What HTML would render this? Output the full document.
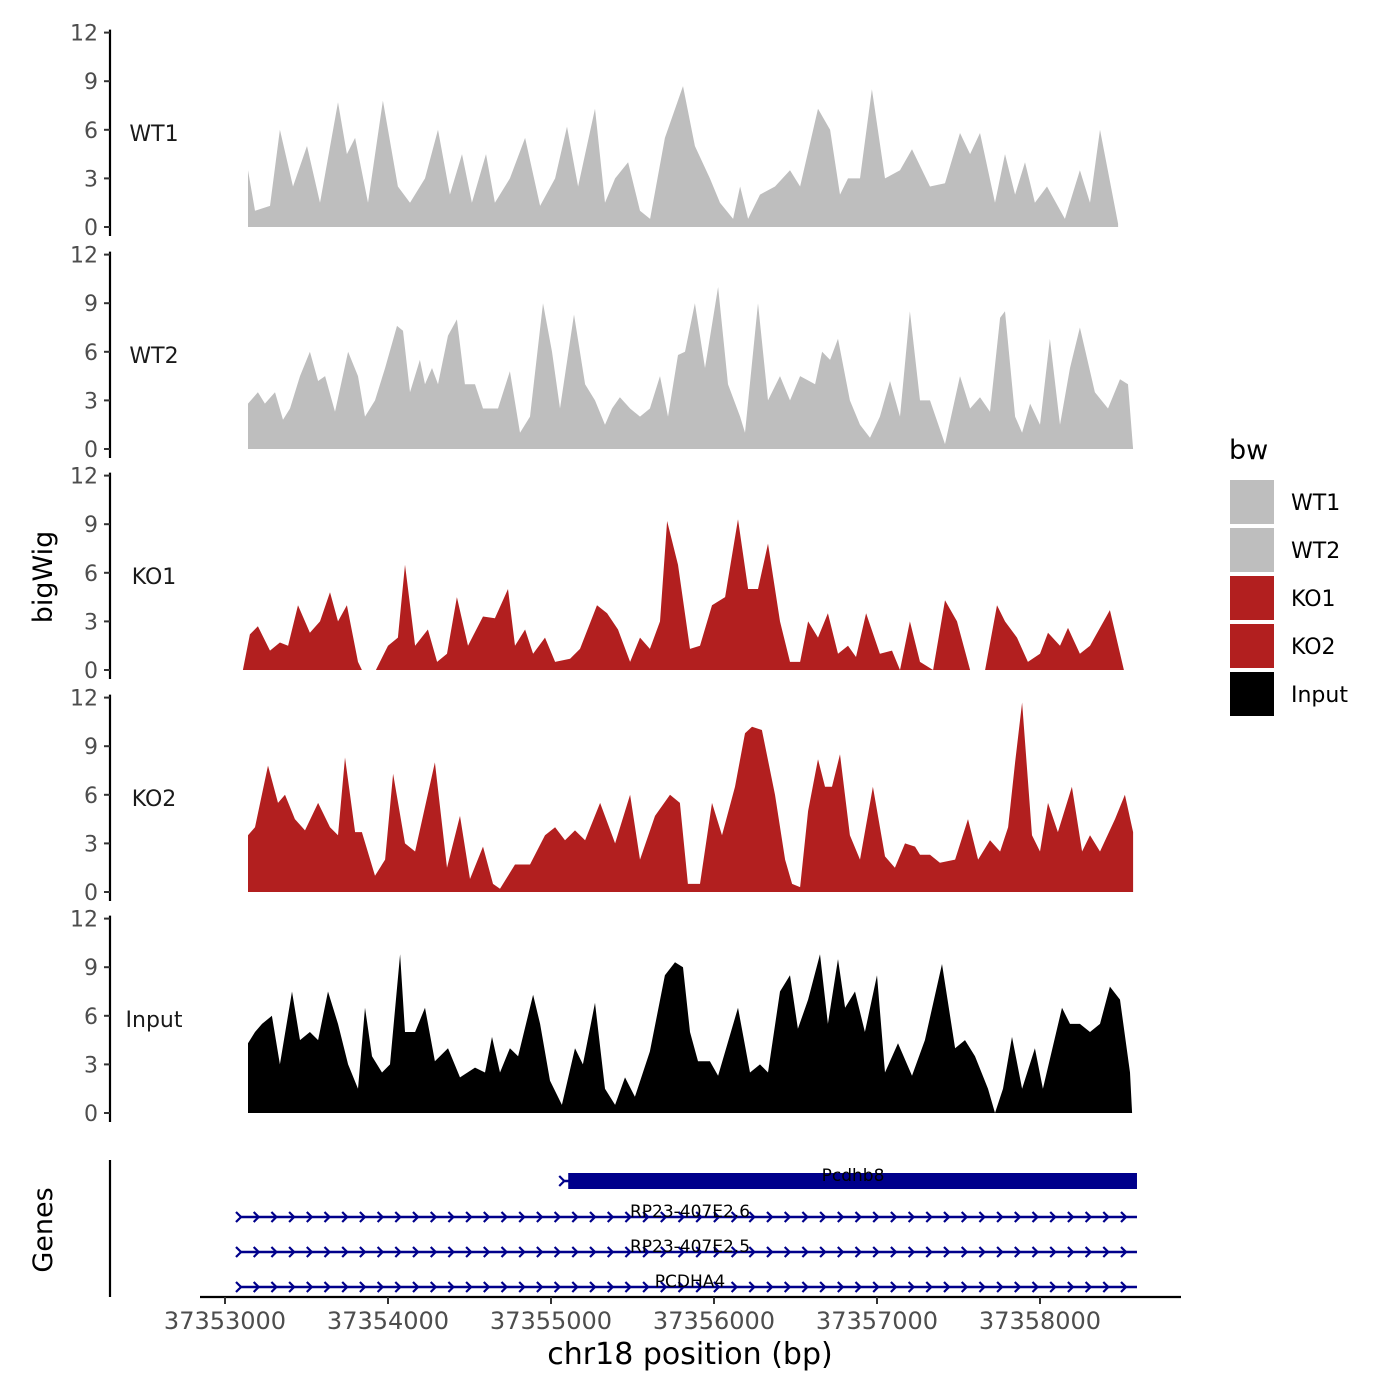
<!DOCTYPE html>
<html><head><meta charset="utf-8">
<style>
html,body{margin:0;padding:0;background:#fff;}
svg{display:block;font-family:"DejaVu Sans","Liberation Sans",sans-serif;}
</style></head>
<body>
<svg id="chart" width="1400" height="1400" viewBox="0 0 1400 1400" xmlns="http://www.w3.org/2000/svg">
<rect width="1400" height="1400" fill="#fff"/>
<g id="tracks"></g>
<g id="genes"></g>
<text x="0" y="0" transform="translate(52,577) rotate(-90)" text-anchor="middle" font-size="27" fill="#000">bigWig</text>
<text x="0" y="0" transform="translate(52,1230) rotate(-90)" text-anchor="middle" font-size="27" fill="#000">Genes</text>
<text x="690" y="1364" text-anchor="middle" font-size="30" fill="#000">chr18 position (bp)</text>
<g>
<text x="1229" y="459" font-size="27" fill="#000">bw</text>
<rect x="1230" y="480" width="44" height="44" fill="#bebebe"/>
<text x="1291" y="510" font-size="22">WT1</text>
<rect x="1230" y="528" width="44" height="44" fill="#bebebe"/>
<text x="1291" y="558" font-size="22">WT2</text>
<rect x="1230" y="576" width="44" height="44" fill="#b21f1f"/>
<text x="1291" y="606" font-size="22">KO1</text>
<rect x="1230" y="624" width="44" height="44" fill="#b21f1f"/>
<text x="1291" y="654" font-size="22">KO2</text>
<rect x="1230" y="672" width="44" height="44" fill="#000"/>
<text x="1291" y="702" font-size="22">Input</text>
</g>
</svg>
<script>
const BASE = 37353000;
const trackNames = ["WT1","WT2","KO1","KO2","Input"];
const trackColors = ["#bebebe","#bebebe","#b21f1f","#b21f1f","#000000"];
const yTicks = [0,3,6,9,12];
const xTicks = [37353000,37354000,37355000,37356000,37357000,37358000];
const xTickLabels = ["37353000","37354000","37355000","37356000","37357000","37358000"];

const posWT1 = [141,184,276,337,417,503,583,693,748,798,877,969,1061,1135,1227,1307,1380,1454,1515,1601,1656,1748,1841,1933,2025,2098,2166,2270,2331,2393,2473,2546,2608,2699,2810,2883,2975,3037,3117,3160,3209,3282,3374,3466,3528,3638,3712,3773,3822,3896,3969,4049,4141,4215,4325,4417,4509,4571,4632,4724,4785,4847,4908,4969,5043,5153,5245,5307,5368,5479];
const valWT1 = [3.5,1,1.3,6,2.5,5,1.5,7.7,4.5,5.5,1.5,7.8,2.5,1.5,3,6,2,4.5,1.5,4.5,1.5,3,5.5,1.3,3,6.2,2.5,7.3,1.5,3,4,1,0.5,5.5,8.7,5,3,1.5,0.5,2.5,0.5,2,2.5,3.5,2.5,7.3,6,2,3,3,8.5,3,3.5,4.8,2.5,2.7,5.8,4.5,5.8,1.5,4.5,2,4,1.5,2.5,0.5,3.5,1.5,6,0.2];

const posWT2 = [141,202,245,307,356,399,460,521,571,614,675,755,816,859,920,982,1055,1092,1135,1196,1227,1270,1307,1368,1423,1472,1534,1583,1626,1675,1748,1810,1871,1951,2006,2055,2141,2209,2270,2331,2374,2423,2485,2546,2607,2669,2718,2779,2822,2883,2945,3025,3086,3160,3190,3270,3331,3405,3466,3528,3620,3663,3712,3761,3834,3896,3957,4018,4080,4141,4202,4264,4325,4417,4509,4571,4632,4693,4755,4785,4847,4890,4939,5000,5061,5123,5184,5245,5337,5417,5491,5540,5571];
const valWT2 = [2.8,3.5,2.8,3.5,1.8,2.5,4.5,6,4.2,4.5,2.3,6,4.5,2,3,5,7.6,7.3,3.5,5.5,4,5,4,7,8,4,4,2.5,2.5,2.5,4.8,1,2,9,6,2.5,8.3,4,3,1.5,2.5,3.2,2.5,2,2.5,4.5,2,5.8,6,9,5,10,4,2,1,9,3,4.5,3,4.5,4,6,5.5,6.8,3,1.5,0.7,2,4.2,2,8.5,3,3,0.3,4.5,2.5,3.2,2.3,8.1,8.5,2,1,2.8,1.5,6.8,1.5,5,7.5,3.5,2.5,4.3,4,0];

const posKO1 = [110,153,202,276,337,387,448,521,583,644,693,748,816,840,926,1000,1061,1104,1166,1245,1301,1362,1423,1491,1583,1656,1736,1779,1841,1890,1963,2025,2117,2178,2282,2344,2411,2485,2546,2607,2669,2712,2779,2853,2914,2988,3068,3147,3209,3270,3331,3405,3466,3528,3577,3638,3699,3761,3822,3871,3933,4018,4092,4141,4202,4264,4344,4417,4491,4571,4663,4736,4785,4859,4926,5000,5049,5123,5172,5245,5307,5429,5515];
const valKO1 = [0,2.2,2.7,1.2,1.7,1.5,4,2.3,3,4.8,3,4,0.5,0,0,1.5,2,6.5,1.5,2.5,0.5,1,4.5,1.5,3.3,3.2,5,1.5,2.5,1,2,0.5,0.7,1.3,4,3.5,2.5,0.5,2,1.3,3,9.2,6.5,1.3,1.5,4,4.5,9.3,5,5,7.8,3,0.5,0.5,3,2,3.5,1,1.5,0.8,3.5,1,1.2,0,3,0.5,0,4.3,3,0,0,4,3,2,0.5,1,2.3,1.5,2.6,1,1.5,3.7,0];

const posKO2 = [141,184,264,325,368,429,491,571,644,693,736,798,840,920,982,1031,1104,1166,1288,1362,1442,1503,1583,1644,1687,1779,1871,1963,2025,2086,2147,2209,2301,2393,2485,2546,2638,2730,2791,2840,2914,2988,3049,3129,3190,3233,3294,3374,3436,3479,3528,3577,3638,3681,3724,3773,3834,3896,3975,4049,4110,4172,4233,4264,4325,4386,4479,4558,4620,4693,4755,4804,4847,4890,4951,5000,5049,5110,5196,5258,5307,5368,5460,5521,5571];
const valKO2 = [3.5,4,7.8,5.5,6,4.5,3.8,5.5,4,3.5,8.3,3.7,3.7,1,2,7.3,3,2.5,8,1.5,4.7,0.8,2.8,0.5,0.2,1.7,1.7,3.5,4,3.2,3.8,3.2,5.5,3,6,2,4.7,6,5.5,0.5,0.5,5.5,3.5,6.5,9.8,10.2,10,6,2,0.5,0.3,5,8.2,6.5,6.5,8.5,3.5,2,6.5,2.2,1.5,3,2.8,2.3,2.3,1.8,2,4.5,2,3.2,2.5,4,8,11.7,3.5,2.5,5.5,3.7,6.5,2.5,3.5,2.5,4.5,6,3.7];

const posInput = [141,184,227,288,337,411,460,521,571,632,693,755,816,859,902,963,1012,1074,1104,1166,1227,1288,1368,1442,1534,1595,1638,1687,1748,1798,1890,1933,1994,2067,2147,2196,2270,2331,2393,2454,2515,2607,2699,2761,2810,2853,2902,2975,3025,3147,3221,3282,3331,3405,3466,3515,3577,3650,3699,3761,3804,3865,3926,4000,4049,4129,4215,4294,4399,4479,4540,4601,4681,4724,4773,4828,4890,4969,5018,5135,5184,5245,5307,5368,5429,5491,5552,5565];
const valInput = [4.3,5,5.5,6,3,7.5,4.5,5,4.5,7.5,5.5,3,1.5,6.5,3.5,2.5,3,9.8,5,5,6.5,3.2,4,2.2,2.8,2.5,4.7,2.5,4,3.5,7.3,5.5,2,0.5,4,3,6.8,1.5,0.5,2.2,1,3.8,8.5,9.3,9,5,3.2,3.2,2.3,6.5,2.5,3,2.5,7.5,8.5,5.2,7,9.8,5.5,9.5,6.5,7.5,5,8.5,2.5,4.3,2.3,4.5,9.2,4,4.5,3.5,1.5,0,1.5,4.7,1.5,4,1.5,6.5,5.5,5.5,5,5.5,7.8,7,2.5,0];

const allPos = [posWT1,posWT2,posKO1,posKO2,posInput];
const allVal = [valWT1,valWT2,valKO1,valKO2,valInput];

const geneNames = ["Pcdhb8","RP23-407E2.6","RP23-407E2.5","PCDHA4"];
const geneStarts = [37355075,37353092,37353092,37353092];
const geneEnds = [37358595,37358595,37358595,37358595];

const NS = "http://www.w3.org/2000/svg";
function mk(tag, attrs, parent){const e=document.createElementNS(NS,tag);for(const k in attrs)e.setAttribute(k,attrs[k]);parent.appendChild(e);return e;}
function xScale(bp){return 225 + (bp - 37353000) * 0.163;}
const zeroY = [227,449,670,892,1113];
const pxPerUnit = 16.2;
function yScale(t,v){return zeroY[t] - v*pxPerUnit;}

const tg = document.getElementById("tracks");
for(let t=0;t<5;t++){
  const g = mk("g",{},tg);
  
  
  const pos = allPos[t], val = allVal[t];
  let d = "M"+xScale(BASE+pos[0]).toFixed(1)+","+zeroY[t];
  for(let i=0;i<pos.length;i++) d += " L"+xScale(BASE+pos[i]).toFixed(1)+","+yScale(t,val[i]).toFixed(1);
  d += " L"+xScale(BASE+pos[pos.length-1]).toFixed(1)+","+zeroY[t]+" Z";
  const area = mk("path",{d:d,fill:trackColors[t]},g);
  
  
  const ax = mk("line",{x1:110,x2:110,y1:yScale(t,12)-3,y2:zeroY[t]+9,stroke:"#000","stroke-width":2.2},g);
  
  
  for(const v of yTicks){
    const y = yScale(t,v);
    const tk = mk("line",{x1:104,x2:110,y1:y,y2:y,stroke:"#333","stroke-width":2},g);
    
    
    const lb = mk("text",{x:98,y:y+8,"text-anchor":"end","font-size":22,fill:"#4d4d4d"},g);
    lb.textContent = v;
    
    
  }
  const tl = mk("text",{x:154,y:yScale(t,6)+11,"text-anchor":"middle","font-size":22,fill:"#1a1a1a"},g);
  tl.textContent = trackNames[t];
  
  
}

const gg = document.getElementById("genes");
const gl = mk("line",{x1:110,x2:110,y1:1160,y2:1297,stroke:"#000","stroke-width":2.2},gg);


const xl = mk("line",{x1:200,x2:1181,y1:1297,y2:1297,stroke:"#000","stroke-width":2.2},gg);


for(let i=0;i<xTicks.length;i++){
  const x = xScale(xTicks[i]);
  const tk = mk("line",{x1:x,x2:x,y1:1297,y2:1304,stroke:"#333","stroke-width":2},gg);
  
  
  const lb = mk("text",{x:x,y:1329,"text-anchor":"middle","font-size":24,fill:"#4d4d4d"},gg);
  lb.textContent = xTickLabels[i];
  
  
}
const geneY = [1181,1217,1252,1287];
for(let i=0;i<geneNames.length;i++){
  const g = mk("g",{},gg);
  
  
  const x1 = xScale(geneStarts[i]), x2 = xScale(geneEnds[i]), y = geneY[i];
  mk("line",{x1:x1,x2:x2,y1:y,y2:y,stroke:"#00008b","stroke-width":2.5},g);
  if(i===0){
    mk("rect",{x:x1+5,y:y-8,width:x2-x1-5,height:16,fill:"#00008b"},g);
  }
  for(let x=x1; x<=x2+1; x+=17.7){
    mk("path",{d:`M${x-4},${y-5} L${x+1},${y} L${x-4},${y+5}`,fill:"none",stroke:"#00008b","stroke-width":2.2},g);
  }
  const lb = mk("text",{x:i===0?853:690,y:y,"text-anchor":"middle","font-size":17,fill:"#000"},g);
  lb.textContent = geneNames[i];
  
  
}
</script>
</body></html>
